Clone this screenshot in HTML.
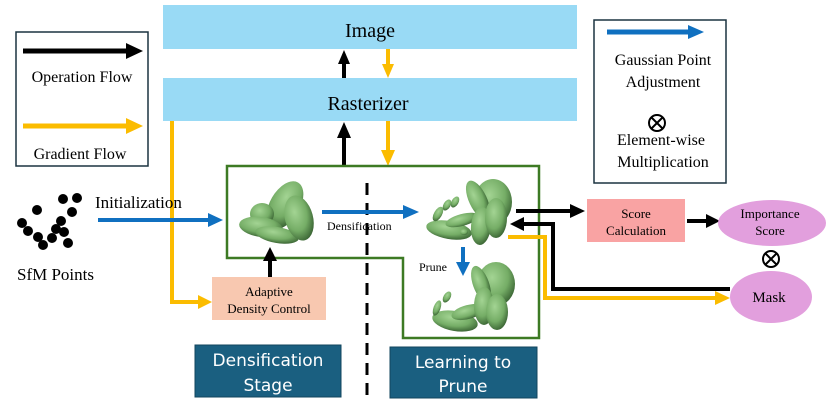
<!DOCTYPE html>
<html><head><style>
body{margin:0;background:#fff;}
svg text{font-family:"Liberation Serif",serif;}
</style></head><body>
<svg width="830" height="413" viewBox="0 0 830 413" xmlns="http://www.w3.org/2000/svg">
<defs>
<radialGradient id="g" cx="40%" cy="35%" r="70%">
<stop offset="0" stop-color="#a3d493"/><stop offset="0.6" stop-color="#75ad66"/><stop offset="1" stop-color="#365f30"/>
</radialGradient>
</defs>
<rect x="163" y="5" width="414" height="44" fill="#99daf5"/>
<text x="370" y="37" font-size="20" text-anchor="middle">Image</text>
<rect x="163" y="78" width="414" height="43" fill="#99daf5"/>
<text x="368" y="110" font-size="20" text-anchor="middle">Rasterizer</text>
<rect x="16" y="32" width="132" height="134" fill="#fff" stroke="#1b3340" stroke-width="1.5"/>
<line x1="23" y1="51" x2="128" y2="51" stroke="#000" stroke-width="5"/><polygon points="126,43 143,51 126,59" fill="#000"/>
<text x="82" y="82" font-size="16" text-anchor="middle">Operation Flow</text>
<line x1="23" y1="126" x2="128" y2="126" stroke="#fbbc00" stroke-width="5"/><polygon points="126,118 143,126 126,134" fill="#fbbc00"/>
<text x="80" y="159" font-size="16" text-anchor="middle">Gradient Flow</text>
<rect x="594" y="20" width="132" height="163" fill="#fff" stroke="#1b3340" stroke-width="1.5"/>
<line x1="607" y1="32" x2="690" y2="32" stroke="#1070c0" stroke-width="5"/><polygon points="688,25 704,32 688,39" fill="#1070c0"/>
<text x="663" y="65" font-size="16" text-anchor="middle">Gaussian Point</text>
<text x="663" y="87" font-size="16" text-anchor="middle">Adjustment</text>
<circle cx="657" cy="123" r="8" fill="none" stroke="#000" stroke-width="2"/>
<line x1="651.5" y1="117.5" x2="662.5" y2="128.5" stroke="#000" stroke-width="2"/><line x1="662.5" y1="117.5" x2="651.5" y2="128.5" stroke="#000" stroke-width="2"/>
<text x="661" y="145" font-size="16" text-anchor="middle">Element-wise</text>
<text x="663" y="167" font-size="16" text-anchor="middle">Multiplication</text>
<line x1="344" y1="78" x2="344" y2="62" stroke="#000" stroke-width="4"/><polygon points="338,64 344,50 350,64" fill="#000"/>
<line x1="388" y1="49" x2="388" y2="66" stroke="#fbbc00" stroke-width="4"/><polygon points="382,64 388,78 394,64" fill="#fbbc00"/>
<line x1="344" y1="166" x2="344" y2="136" stroke="#000" stroke-width="4"/><polygon points="337,138 344,122 351,138" fill="#000"/>
<line x1="388" y1="121" x2="388" y2="152" stroke="#fbbc00" stroke-width="4"/><polygon points="381,150 388,166 395,150" fill="#fbbc00"/>
<polygon points="227,166 539,166 539,338 403,338 403,258 227,258" fill="none" stroke="#3d7a24" stroke-width="2.5"/>
<line x1="367" y1="183" x2="367" y2="402" stroke="#000" stroke-width="3" stroke-dasharray="12,8"/>
<polyline points="172,121 172,302 200,302" fill="none" stroke="#fbbc00" stroke-width="4"/>
<polygon points="198,295 212,302 198,309" fill="#fbbc00"/>
<rect x="212" y="277" width="114" height="43" fill="#f8c8b0"/>
<text x="269" y="296" font-size="13" text-anchor="middle">Adaptive</text>
<text x="269" y="313" font-size="13" text-anchor="middle">Density Control</text>
<line x1="270" y1="277" x2="270" y2="258" stroke="#000" stroke-width="4"/><polygon points="263,261 270,247 277,261" fill="#000"/>
<line x1="98" y1="220" x2="210" y2="220" stroke="#1070c0" stroke-width="4"/><polygon points="208,213 223,220 208,227" fill="#1070c0"/>
<text x="95" y="208" font-size="17">Initialization</text>
<g fill="#000">
<circle cx="63" cy="199" r="5"/><circle cx="77" cy="198" r="5"/><circle cx="37" cy="210" r="5"/><circle cx="72" cy="212" r="5"/><circle cx="61" cy="221" r="5"/>
<circle cx="22" cy="223" r="5"/><circle cx="28" cy="231" r="5"/><circle cx="38" cy="237" r="5"/><circle cx="56" cy="229" r="5"/><circle cx="64" cy="232" r="5"/>
<circle cx="43" cy="245" r="5"/><circle cx="52" cy="238" r="5"/><circle cx="68" cy="243" r="5"/>
</g>
<text x="17" y="280" font-size="17">SfM Points</text>
<g fill="url(#g)">
<ellipse cx="285" cy="205" rx="15" ry="26" transform="rotate(30 285 205)"/>
<ellipse cx="262" cy="214" rx="12" ry="11"/>
<ellipse cx="261" cy="227" rx="22" ry="10" transform="rotate(8 261 227)"/>
<ellipse cx="277" cy="235" rx="22" ry="8" transform="rotate(10 277 235)"/>
<ellipse cx="299" cy="218" rx="14" ry="23" transform="rotate(-15 299 218)"/>
</g>
<line x1="322" y1="212" x2="405" y2="212" stroke="#1070c0" stroke-width="4"/><polygon points="403,205 419,212 403,219" fill="#1070c0"/>
<text x="327" y="230" font-size="12">Densification</text>
<g fill="url(#g)">
<ellipse cx="493" cy="202" rx="19" ry="23"/>
<ellipse cx="478" cy="200" rx="9" ry="21" transform="rotate(-25 478 200)"/>
<ellipse cx="449" cy="230" rx="23" ry="9" transform="rotate(10 449 230)"/>
<ellipse cx="462" cy="220" rx="17" ry="6" transform="rotate(-15 462 220)"/>
<ellipse cx="481" cy="226" rx="10" ry="19" transform="rotate(5 481 226)"/>
<ellipse cx="496" cy="218" rx="11" ry="20"/>
<ellipse cx="438" cy="214" rx="4" ry="8" transform="rotate(30 438 214)"/>
<ellipse cx="447" cy="205" rx="3.5" ry="6" transform="rotate(30 447 205)"/>
<ellipse cx="455" cy="202" rx="3.5" ry="6" transform="rotate(30 455 202)"/>
<ellipse cx="464" cy="232" rx="4" ry="3"/>
</g>
<line x1="463" y1="247" x2="463" y2="264" stroke="#1070c0" stroke-width="4"/><polygon points="456,262 463,276 470,262" fill="#1070c0"/>
<text x="419" y="271" font-size="12">Prune</text>
<g fill="url(#g)">
<ellipse cx="496" cy="284" rx="19" ry="22"/>
<ellipse cx="481" cy="284" rx="8" ry="19" transform="rotate(-20 481 284)"/>
<ellipse cx="455" cy="321" rx="23" ry="10" transform="rotate(10 455 321)"/>
<ellipse cx="468" cy="312" rx="17" ry="7" transform="rotate(-15 468 312)"/>
<ellipse cx="484" cy="306" rx="10" ry="19"/>
<ellipse cx="497" cy="312" rx="11" ry="18"/>
<ellipse cx="437" cy="308" rx="3.5" ry="8" transform="rotate(20 437 308)"/>
<ellipse cx="447" cy="297" rx="3.5" ry="6" transform="rotate(30 447 297)"/>
</g>
<line x1="516" y1="211" x2="572" y2="211" stroke="#000" stroke-width="4"/><polygon points="570,204 585,211 570,218" fill="#000"/>
<polyline points="730,289 553,289 553,224 522,224" fill="none" stroke="#000" stroke-width="4"/>
<polygon points="524,217 510,224 524,231" fill="#000"/>
<polyline points="508,237 545,237 545,298 717,298" fill="none" stroke="#fbbc00" stroke-width="4"/>
<polygon points="715,291 730,298 715,305" fill="#fbbc00"/>
<rect x="587" y="199" width="98" height="43" fill="#f9a3a3"/>
<text x="636" y="218" font-size="13" text-anchor="middle">Score</text>
<text x="636" y="235" font-size="13" text-anchor="middle">Calculation</text>
<line x1="687" y1="221" x2="708" y2="221" stroke="#000" stroke-width="4"/><polygon points="706,214 720,221 706,228" fill="#000"/>
<ellipse cx="772" cy="223" rx="54" ry="23" fill="#e29fdd"/>
<text x="770" y="218" font-size="13" text-anchor="middle">Importance</text>
<text x="770" y="235" font-size="13" text-anchor="middle">Score</text>
<circle cx="771" cy="259" r="8" fill="none" stroke="#000" stroke-width="2"/>
<line x1="765.5" y1="253.5" x2="776.5" y2="264.5" stroke="#000" stroke-width="2"/><line x1="776.5" y1="253.5" x2="765.5" y2="264.5" stroke="#000" stroke-width="2"/>
<ellipse cx="771" cy="297" rx="41" ry="26" fill="#e29fdd"/>
<text x="769" y="302" font-size="15" text-anchor="middle">Mask</text>
<rect x="195" y="345" width="146" height="52" fill="#1a5f80" stroke="#12455e" stroke-width="1"/>
<text x="268" y="366" font-size="17" fill="#fff" text-anchor="middle" style="font-family:'DejaVu Sans',sans-serif">Densification</text>
<text x="268" y="391" font-size="17" fill="#fff" text-anchor="middle" style="font-family:'DejaVu Sans',sans-serif">Stage</text>
<rect x="390" y="347" width="147" height="51" fill="#1a5f80" stroke="#12455e" stroke-width="1"/>
<text x="463" y="368" font-size="17" fill="#fff" text-anchor="middle" style="font-family:'DejaVu Sans',sans-serif">Learning to</text>
<text x="463" y="392" font-size="17" fill="#fff" text-anchor="middle" style="font-family:'DejaVu Sans',sans-serif">Prune</text>
</svg>
</body></html>
